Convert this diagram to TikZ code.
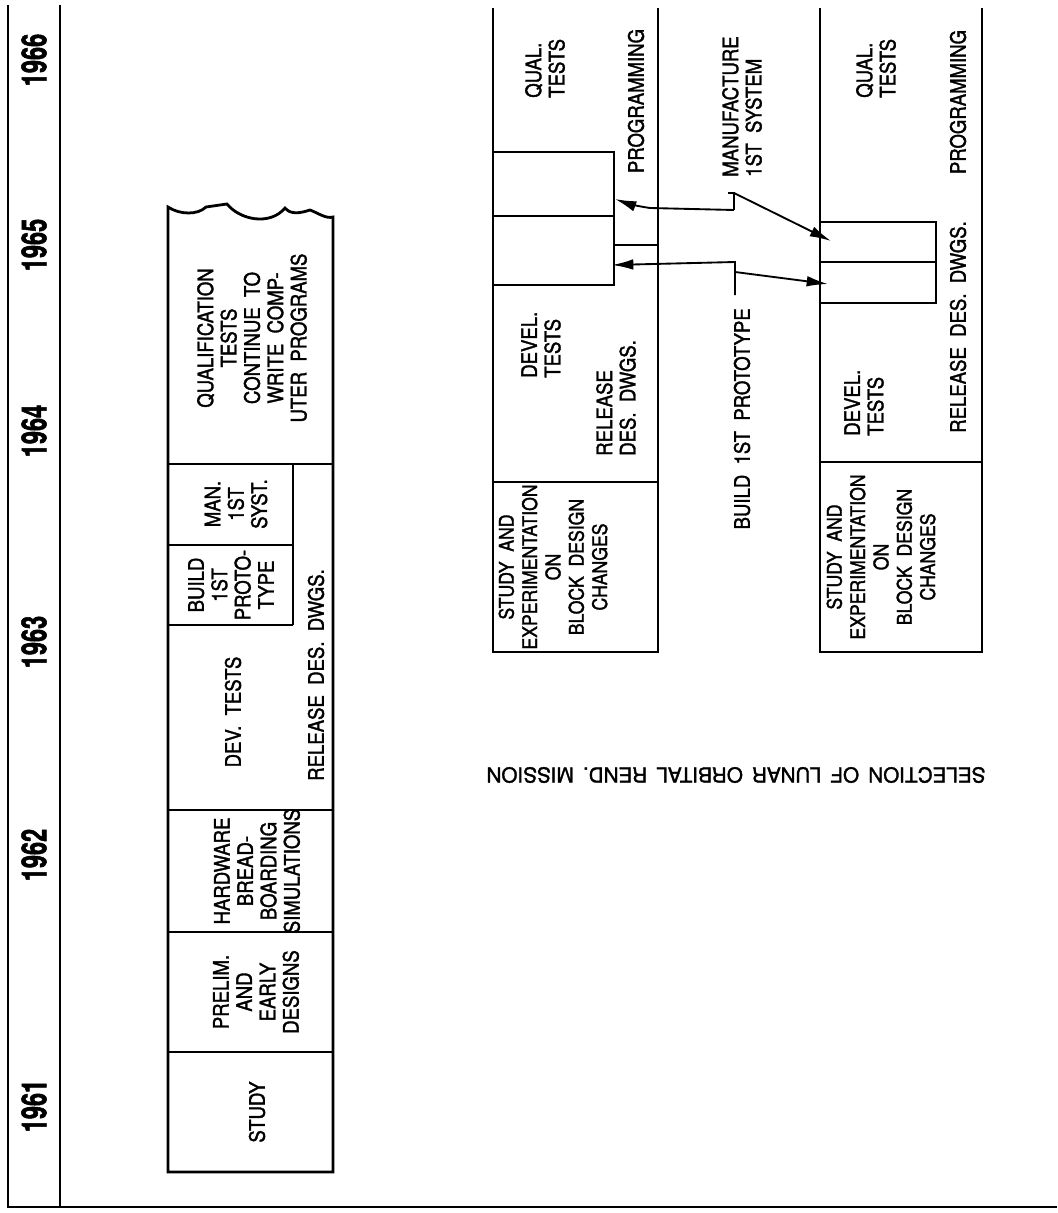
\documentclass[tikz,border=0pt]{standalone}
\usepackage{fontspec}
\newfontfamily\lett[FakeStretch=0.87,FakeBold=1.6,WordSpace=2]{TeX Gyre Heros}
\newfontfamily\capf[FakeBold=1.6,WordSpace=1.6]{TeX Gyre Heros}
\newfontfamily\yrfont[FakeStretch=0.68,FakeBold=1.5]{TeX Gyre Heros}
\usetikzlibrary{arrows.meta}
\begin{document}
\begin{tikzpicture}[x=0.75pt,y=-0.75pt,
  box/.style={line width=2.1pt},
  conn/.style={line width=1.4pt},
  arr/.style={conn,-{Latex[length=16pt,width=8pt]}},
  lbl/.style={rotate=90,font=\lett\fontsize{16}{17.5}\selectfont,inner sep=0pt,align=center},
  lbll/.style={lbl,align=left},
  stud/.style={lbl,font=\lett\fontsize{15.2}{17.5}\selectfont},
  yr/.style={rotate=90,font=\yrfont\bfseries\fontsize{26}{28}\selectfont,inner sep=0pt}]
\fill[white] (0,0) rectangle (1057,1213);
\useasboundingbox (0,0) rectangle (1057,1213);

% frame
\draw[box] (8,5) -- (8,1207) -- (1057,1207);
\draw[box] (60,5) -- (60,1207);

% years
\node[yr] (y66) at (34,60) {1966};
\node[yr] (y65) at (34,245) {1965};
\node[yr] (y64) at (34,431) {1964};
\node[yr] (y63) at (34,642) {1963};
\node[yr] (y62) at (34,855) {1962};
\node[yr] (y61) at (34,1106) {1961};

% left chart
\draw[box] (168,1172) -- (168,207)
  .. controls (180,215) and (198,215) .. (206,207) -- (227,204)
  .. controls (240,220) and (270,226) .. (285,208)
  .. controls (290,214) and (298,214) .. (310,210)
  .. controls (318,213) and (326,219) .. (333,217)
  -- (333,1172) -- cycle;
\draw[box] (168,464) -- (333,464);
\draw[box] (293,464) -- (293,625);
\draw[box] (168,545) -- (293,545);
\draw[box] (168,625) -- (293,625);
\draw[box] (168,810) -- (333,810);
\draw[box] (168,932) -- (333,932);
\draw[box] (168,1052) -- (333,1052);

\node[lbl] (qual) at (252,338) {QUALIFICATION\\TESTS\\CONTINUE TO\\WRITE COMP-\\UTER PROGRAMS};
\node[lbl] (man) at (236,504) {MAN.\\1ST\\SYST.};
\node[lbl] (build) at (231,585) {BUILD\\1ST\\PROTO-\\TYPE};
\node[lbl] (dev) at (233,712) {DEV. TESTS};
\node[lbl] (rel) at (316,675) {RELEASE DES. DWGS.};
\node[lbl] (hw) at (257,871) {HARDWARE\\BREAD-\\BOARDING\\SIMULATIONS};
\node[lbl] (pre) at (256,992) {PRELIM.\\AND\\EARLY\\DESIGNS};
\node[lbl] (study) at (257,1112) {STUDY};

% middle chart
\draw[box] (493,8) -- (493,652) -- (658,652) -- (658,8);
\draw[box] (493,482) -- (658,482);
\draw[box] (493,152) -- (614,152) -- (614,285) -- (493,285);
\draw[box] (493,216) -- (614,216);
\draw[box] (614,245) -- (658,245);

\node[lbll,anchor=west] (mq) at (545,98) {QUAL.\\TESTS};
\node[lbl] (mp) at (636,101) {PROGRAMMING};
\node[lbll,anchor=west] (md) at (541,378) {DEVEL.\\TESTS};
\node[lbll,anchor=west] (mr) at (616,456) {RELEASE\\DES. DWGS.};
\node[stud] (ms) at (553,567) {STUDY AND\\EXPERIMENTATION\\ON\\BLOCK DESIGN\\CHANGES};

% right chart
\draw[box] (820,8) -- (820,652) -- (982,652) -- (982,8);
\draw[box] (820,462) -- (982,462);
\draw[box] (820,222) -- (936,222) -- (936,303) -- (820,303);
\draw[box] (820,262) -- (936,262);

\node[lbll,anchor=west] (rq) at (876,98) {QUAL.\\TESTS};
\node[lbl] (rp) at (958,102) {PROGRAMMING};
\node[lbl] (rr) at (958,327) {RELEASE DES. DWGS.};
\node[lbll,anchor=west] (rd) at (864,436) {DEVEL.\\TESTS};
\node[stud] (rs) at (881,557) {STUDY AND\\EXPERIMENTATION\\ON\\BLOCK DESIGN\\CHANGES};

% connector labels
\node[lbll,anchor=west] (mfg) at (742,177) {MANUFACTURE\\1ST SYSTEM};
\node[lbl,anchor=east] (bproto) at (742,308) {BUILD 1ST PROTOTYPE};

\coordinate (m0) at (728,193);
\coordinate (m1) at (734,193);
\coordinate (m2) at (734,210);
\coordinate (m3) at (650,208);
\coordinate (a1) at (615,199);
\coordinate (b1) at (831,241);
\draw[conn] (m0) -- (m1) -- (m2);
\draw[arr] (m2) -- (m3) .. controls (636,206) and (626,203) .. (a1);
\draw[arr] (m1) -- (b1);

\coordinate (n0) at (735,295);
\coordinate (n1) at (735,262);
\coordinate (n2) at (735,272);
\coordinate (a2) at (612,265);
\coordinate (b2) at (828,284);
\draw[arr] (n0) -- (n1) -- (a2);
\draw[arr] (n2) -- (b2);

% caption
\node[rotate=180,font=\capf\fontsize{15.5}{18}\selectfont,inner sep=0pt] (sel) at (736,775) {SELECTION OF LUNAR ORBITAL REND. MISSION};
\end{tikzpicture}
\end{document}
